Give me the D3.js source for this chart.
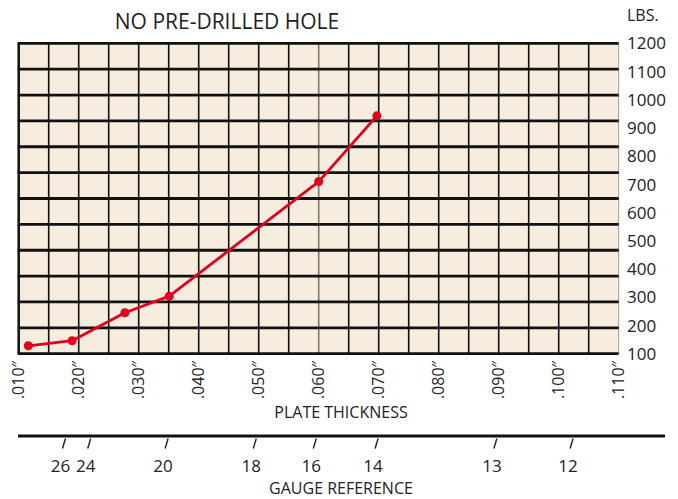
<!DOCTYPE html>
<html>
<head>
<meta charset="utf-8">
<script src="https://cdn.jsdelivr.net/npm/d3@7"></script>
<style>
  html, body { margin: 0; padding: 0; background: #ffffff; }
  svg { display: block; }
  text { font-family: "Open Sans", "DejaVu Sans", sans-serif; fill: #222; }
</style>
</head>
<body>
<svg id="chart" width="678" height="499"></svg>
<script>
// ---- data ----
const thickness = [0.0116, 0.0189, 0.0277, 0.0351, 0.0600, 0.0697];
const lbs = [128, 146, 245, 304, 710, 943];

const xTickValues = [0.010, 0.020, 0.030, 0.040, 0.050, 0.060, 0.070, 0.080, 0.090, 0.100, 0.110];
const xTickLabels = [".010\u2033", ".020\u2033", ".030\u2033", ".040\u2033", ".050\u2033", ".060\u2033",
                     ".070\u2033", ".080\u2033", ".090\u2033", ".100\u2033", ".110\u2033"];
const yTickValues = [1200, 1100, 1000, 900, 800, 700, 600, 500, 400, 300, 200, 100];

const gaugeLabels = ["26", "24", "20", "18", "16", "14", "13", "12"];
const gaugeThickness = [0.0178, 0.0220, 0.0349, 0.0496, 0.0596, 0.0699, 0.0897, 0.1024];

const titleText = "NO PRE-DRILLED HOLE";
const xTitle = "PLATE THICKNESS";
const gaugeTitle = "GAUGE REFERENCE";
const yUnit = "LBS.";

// ---- layout ----
const svg = d3.select("#chart");
const pL = 18.7, pR = 618.7, pT = 43.3, pB = 353.7;

const x = d3.scaleLinear().domain([0.010, 0.110]).range([pL, pR]);
const y = d3.scaleLinear().domain([100, 1200]).range([pB, pT]);

// plot background
svg.append("rect")
  .attr("x", pL).attr("y", pT)
  .attr("width", pR - pL).attr("height", pB - pT)
  .attr("fill", "#f6eddf");

// vertical grid lines
const vLines = d3.range(21).map(i => 0.010 + i * 0.005);
svg.append("g").selectAll("line").data(vLines).join("line")
  .attr("x1", d => x(d)).attr("x2", d => x(d))
  .attr("y1", pT).attr("y2", pB)
  .attr("stroke", (d, i) => i === 10 ? "#7d7770" : (i === 20 ? "#9a9a9a" : "#111"))
  .attr("stroke-width", (d, i) => i === 0 ? 2.5 : (i === 20 ? 1 : 1.6));

// horizontal grid lines (12 equal divisions)
const hLines = d3.range(13).map(i => 100 + i * 1100 / 12);
svg.append("g").selectAll("line").data(hLines).join("line")
  .attr("x1", pL - 1).attr("x2", pR)
  .attr("y1", d => y(d)).attr("y2", d => y(d))
  .attr("stroke", "#111")
  .attr("stroke-width", 2.8);

// data line
const pts = thickness.map((t, i) => [t, lbs[i]]);
svg.append("path")
  .datum(pts)
  .attr("fill", "none")
  .attr("stroke", "#e2001f")
  .attr("stroke-width", 2.8)
  .attr("stroke-linejoin", "round")
  .attr("d", d3.line().x(d => x(d[0])).y(d => y(d[1])));

svg.append("g").selectAll("circle").data(pts).join("circle")
  .attr("cx", d => x(d[0])).attr("cy", d => y(d[1]))
  .attr("r", 4.5)
  .attr("fill", "#e2001f");

// x tick labels (rotated)
svg.append("g").selectAll("text").data(xTickValues).join("text")
  .attr("transform", d => `translate(${x(d)},361) rotate(-90)`)
  .attr("text-anchor", "end")
  .attr("dy", "0.36em")
  .style("font-size", "16px")
  .text((d, i) => xTickLabels[i]);

// y tick labels on the right
svg.append("g").selectAll("text").data(yTickValues).join("text")
  .attr("x", 627).attr("y", d => y(d))
  .attr("dy", "0.36em")
  .style("font-size", "17px")
  .text(d => d);

svg.append("text")
  .attr("x", 627).attr("y", 15).attr("dy", "0.36em")
  .style("font-size", "16px")
  .text(yUnit);

// title
svg.append("text")
  .attr("x", 227).attr("y", 21).attr("dy", "0.36em")
  .attr("text-anchor", "middle")
  .style("font-size", "21px")
  .text(titleText);

// x axis title
svg.append("text")
  .attr("x", 341).attr("y", 412).attr("dy", "0.36em")
  .attr("text-anchor", "middle")
  .style("font-size", "16px")
  .text(xTitle);

// gauge axis
svg.append("line")
  .attr("x1", 18).attr("x2", 665)
  .attr("y1", 436).attr("y2", 436)
  .attr("stroke", "#111").attr("stroke-width", 3);

svg.append("g").selectAll("line").data(gaugeThickness).join("line")
  .attr("x1", d => x(d)).attr("y1", 438.5)
  .attr("x2", d => x(d) - 3).attr("y2", 448.5)
  .attr("stroke", "#222").attr("stroke-width", 1.4);

svg.append("g").selectAll("text").data(gaugeThickness).join("text")
  .attr("x", d => x(d) - 5).attr("y", 466).attr("dy", "0.36em")
  .attr("text-anchor", "middle")
  .style("font-size", "17px")
  .text((d, i) => gaugeLabels[i]);

svg.append("text")
  .attr("x", 341).attr("y", 488).attr("dy", "0.36em")
  .attr("text-anchor", "middle")
  .style("font-size", "16px")
  .text(gaugeTitle);
</script>
</body>
</html>
